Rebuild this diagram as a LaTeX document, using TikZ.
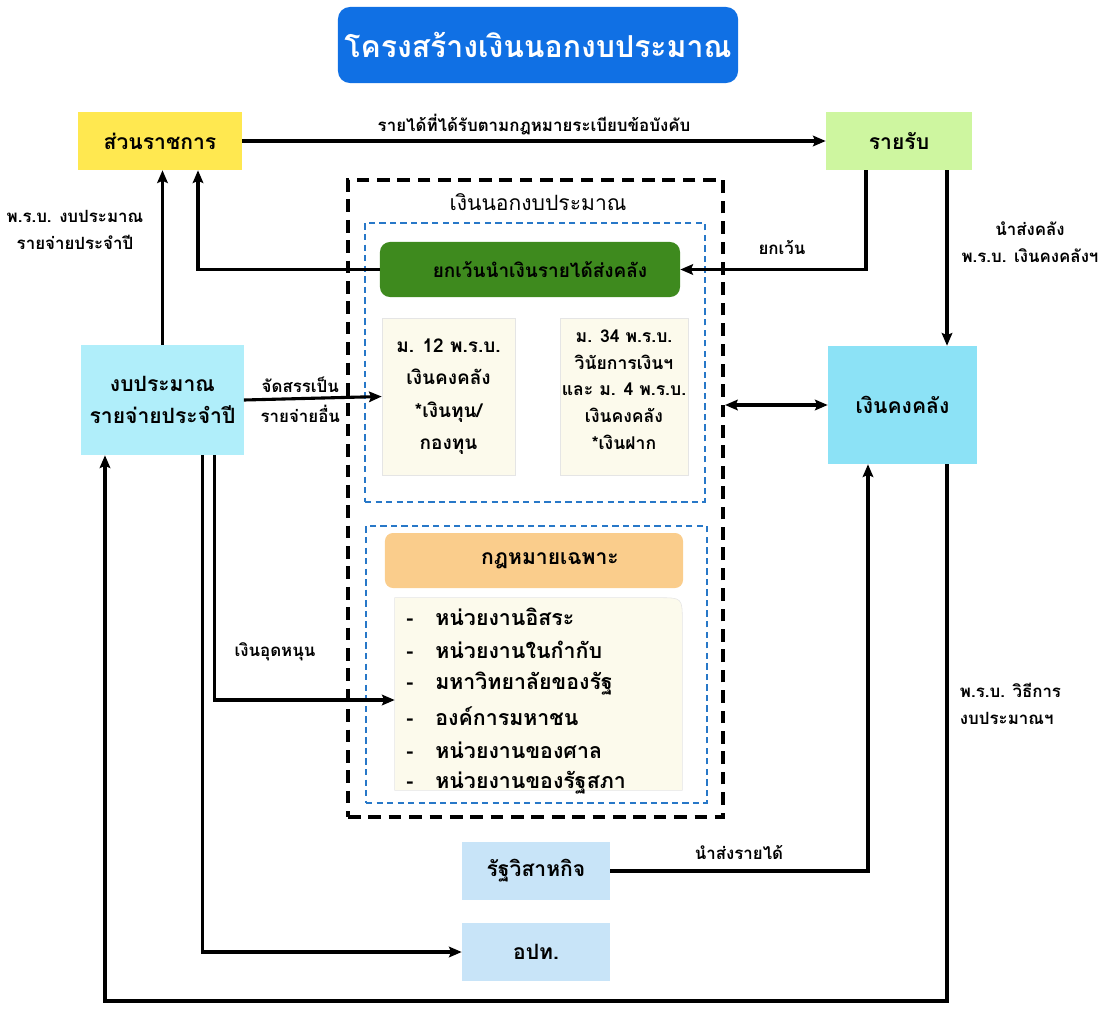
\documentclass[tikz,border=0pt]{standalone}
\usepackage{fontspec}
\setmainfont[Script=Thai]{Loma}
\usetikzlibrary{arrows.meta}

\definecolor{titleblue}{RGB}{16,112,228}
\definecolor{govyellow}{RGB}{255,232,80}
\definecolor{incgreen}{RGB}{206,246,160}
\definecolor{exgreen}{RGB}{62,138,30}
\definecolor{budcyan}{RGB}{176,238,250}
\definecolor{trcyan}{RGB}{140,226,246}
\definecolor{soeblue}{RGB}{200,228,248}
\definecolor{lawor}{RGB}{250,205,140}
\definecolor{cream}{RGB}{252,250,236}
\definecolor{dashblue}{RGB}{40,120,200}

\begin{document}
\begin{tikzpicture}[x=0.025cm,y=-0.025cm,
    box/.style={align=center,inner sep=0pt,font=\bfseries\fontsize{15}{22.7}\selectfont},
    crm/.style={fill=cream,draw=black!10,align=center,inner sep=0pt},
    bluebox/.style={draw=dashblue,line width=1pt,dash pattern=on 4.5pt off 3pt},
    lbl/.style={font=\bfseries\fontsize{12}{19}\selectfont,align=center},
    item/.style={font=\bfseries\fontsize{15.2}{16}\selectfont,inner sep=0pt},
    arr/.style={line width=2.2pt,-{Stealth[length=9pt,width=7.5pt,inset=1.5pt]}},
    darr/.style={line width=2.2pt,{Stealth[length=9pt,width=7.5pt,inset=1.5pt]}-{Stealth[length=9pt,width=7.5pt,inset=1.5pt]}}]
  \useasboundingbox (0,0) rectangle (1112,1008);

  % title and outside boxes
  \node[box,fill=titleblue,text=white,rounded corners=0.3cm,minimum width=10cm,minimum height=1.9cm,
    font=\bfseries\fontsize{21.5}{26}\selectfont] (title) at (538,45) {โครงสร้างเงินนอกงบประมาณ};
  \node[box,fill=govyellow,minimum width=4.1cm,minimum height=1.45cm] (sr) at (160,141) {ส่วนราชการ};
  \node[box,fill=incgreen,minimum width=3.65cm,minimum height=1.45cm] (rr) at (899,141) {รายรับ};
  \node[box,fill=budcyan,minimum width=4.05cm,minimum height=2.75cm] (gb) at (162.5,400) {งบประมาณ\\รายจ่ายประจำปี};
  \node[box,fill=trcyan,minimum width=3.725cm,minimum height=2.95cm] (kk) at (902.5,405) {เงินคงคลัง};
  \node[box,fill=soeblue,minimum width=3.7cm,minimum height=1.45cm] (rv) at (536,871) {รัฐวิสาหกิจ};
  \node[box,fill=soeblue,minimum width=3.7cm,minimum height=1.45cm] (op) at (536,952) {อปท.};

  % off-budget frame
  \node[draw,line width=2.8pt,dash pattern=on 9pt off 5.5pt,minimum width=9.375cm,minimum height=15.925cm] (nob) at (535.5,498.5) {};
  \node[font=\fontsize{15}{18}\selectfont] (nobt) at (538,202) {เงินนอกงบประมาณ};
  \node[bluebox,minimum width=8.5cm,minimum height=6.975cm] (in1) at (535,362.5) {};
  \node[bluebox,minimum width=8.525cm,minimum height=6.925cm] (in2) at (536.5,664.5) {};

  \node[box,fill=exgreen,rounded corners=0.25cm,minimum width=7.5cm,minimum height=1.375cm,
    font=\bfseries\fontsize{13.5}{16}\selectfont] (ex) at (530,269.5) {\hspace*{0.5cm}ยกเว้นนำเงินรายได้ส่งคลัง};
  \node[crm,minimum width=3.325cm,minimum height=3.925cm,font=\bfseries\fontsize{13.5}{23}\selectfont] (c1) at (448.5,396.5) {ม. 12 พ.ร.บ.\\เงินคงคลัง\\*เงินทุน/\\กองทุน};
  \node[crm,minimum width=3.2cm,minimum height=3.925cm,font=\bfseries\fontsize{12.5}{19}\selectfont] (c2) at (624,396.5) {ม. 34 พ.ร.บ.\\วินัยการเงินฯ\\และ ม. 4 พ.ร.บ.\\เงินคงคลัง\\*เงินฝาก\\[-9pt]};

  \node[box,fill=lawor,rounded corners=0.2cm,minimum width=7.45cm,minimum height=1.375cm] (law) at (534,560.5) {\hspace*{0.8cm}กฎหมายเฉพาะ};
  \node[minimum width=7.175cm,minimum height=4.8cm] (lst) at (538.5,694) {};
  \fill[cream,draw=black!10] (lst.south west) -- (lst.north west) -- ([xshift=-0.6cm]lst.north east)
    .. controls (lst.north east) .. ([yshift=-0.6cm]lst.north east) -- (lst.south east) -- cycle;
  \foreach \t [count=\i] in {หน่วยงานอิสระ,หน่วยงานในกำกับ,มหาวิทยาลัยของรัฐ,องค์การมหาชน,หน่วยงานของศาล,หน่วยงานของรัฐสภา}
    \node[item,anchor=west] (it\i) at (406,{583.8+33.2*\i}) {\makebox[0.725cm][l]{-}\t};

  % connectors
  \draw[arr] (sr.east) -- node[lbl,above] (lab1) {รายได้ที่ได้รับตามกฎหมายระเบียบข้อบังคับ} (rr.west);
  \draw[arr] (gb.north) -- (gb.north |- sr.south);
  \node[lbl] (lab2) at (75,230) {พ.ร.บ. งบประมาณ\\รายจ่ายประจำปี};
  \draw[arr] (ex.west) -| ([xshift=0.95cm]sr.south);
  \draw[arr] ([xshift=-0.825cm]rr.south) |- (ex.east);
  \node[lbl] (lab3) at (782,247) {ยกเว้น};
  \draw[arr] ([xshift=1.2cm]rr.south) -- ([xshift=1.2cm]rr.south |- kk.north);
  \node[lbl] (lab4) at (1030,242) {นำส่งคลัง\\พ.ร.บ. เงินคงคลังฯ};
  \draw[arr] (gb.east) -- node[lbl,above,pos=0.41] (lab5) {จัดสรรเป็น} node[lbl,below,pos=0.41] (lab6) {รายจ่ายอื่น} (c1.west);
  \draw[darr] (nob.east |- kk.west) -- (kk.west);
  \draw[arr] ([xshift=1.29cm]gb.south) |- ([yshift=-0.15cm]lst.west);
  \node[lbl] (lab7) at (275,652) {เงินอุดหนุน};
  \draw[arr] ([xshift=0.99cm]gb.south) |- (op.west);
  \draw[arr] (rv.east) -| ([xshift=-0.8625cm]kk.south);
  \node[lbl] (lab8) at (739,852) {นำส่งรายได้};
  \coordinate (floor) at (0,1001);
  \draw[arr] ([xshift=1.1125cm]kk.south) -- ([xshift=1.1125cm]kk.south |- floor) -| ([xshift=-1.4375cm]gb.south);
  \node[lbl,align=left,anchor=west] (lab9) at (955,704) {พ.ร.บ. วิธีการ\\งบประมาณฯ};
\end{tikzpicture}
\end{document}
